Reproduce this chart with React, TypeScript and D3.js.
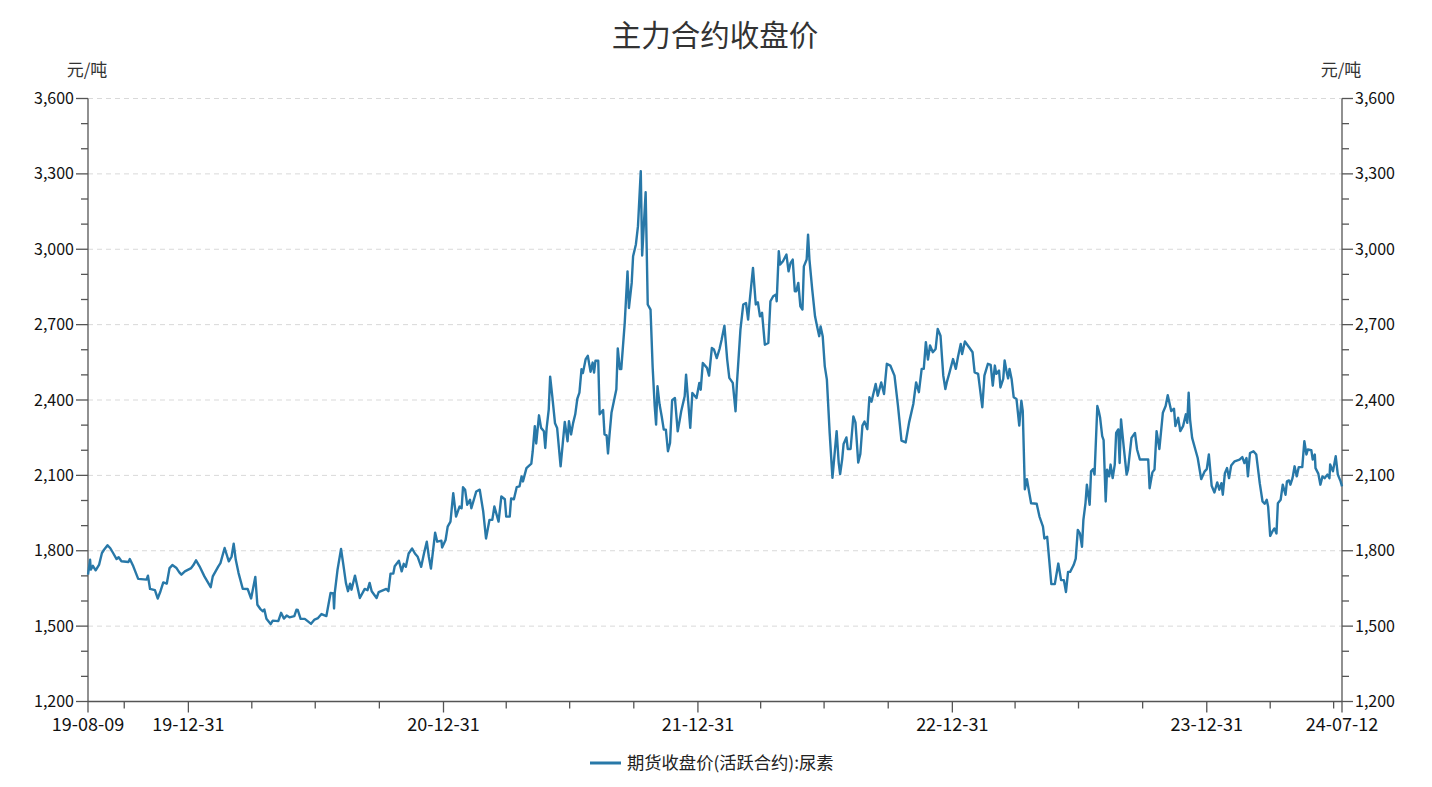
import React from "react";
import * as d3 from "d3";

const TITLE = "主力合约收盘价";
const UNIT = "元/吨";
const SERIES_NAME = "期货收盘价(活跃合约):尿素";
const X_START = "2019-08-09";
const X_END = "2024-07-12";
const Y_MIN = 1200;
const Y_MAX = 3600;
const Y_MAJOR = [1200, 1500, 1800, 2100, 2400, 2700, 3000, 3300, 3600];

// [MM-DD, close price] per year
const close2019: [string, number][] = [
  ["08-09", 1705], ["08-12", 1764], ["08-13", 1725], ["08-16", 1740], ["08-20", 1722], ["08-25", 1745],
  ["08-29", 1791], ["09-01", 1804], ["09-06", 1822], ["09-10", 1810], ["09-14", 1791], ["09-19", 1767],
  ["09-22", 1774], ["09-26", 1758], ["10-06", 1755], ["10-08", 1767], ["10-13", 1738], ["10-20", 1688],
  ["11-01", 1685], ["11-03", 1701], ["11-06", 1648], ["11-13", 1643], ["11-17", 1610], ["11-21", 1639],
  ["11-25", 1674], ["11-30", 1669], ["12-04", 1731], ["12-08", 1743], ["12-14", 1731], ["12-18", 1714],
  ["12-21", 1705], ["12-26", 1718],
];
const close2020: [string, number][] = [
  ["01-04", 1731], ["01-07", 1742], ["01-11", 1762], ["01-16", 1738], ["01-23", 1698], ["02-01", 1655],
  ["02-04", 1698], ["02-12", 1738], ["02-15", 1751], ["02-21", 1811], ["02-23", 1793], ["02-27", 1758],
  ["03-02", 1777], ["03-05", 1828], ["03-08", 1764], ["03-12", 1711], ["03-18", 1649], ["03-25", 1648],
  ["03-30", 1610], ["04-05", 1696], ["04-08", 1585], ["04-12", 1569], ["04-16", 1559], ["04-18", 1566],
  ["04-21", 1529], ["04-27", 1508], ["04-30", 1522], ["05-08", 1520], ["05-12", 1553], ["05-16", 1530],
  ["05-20", 1542], ["05-24", 1535], ["05-31", 1540], ["06-03", 1565], ["06-05", 1564], ["06-09", 1529],
  ["06-15", 1529], ["06-20", 1518], ["06-24", 1509], ["06-29", 1526], ["07-04", 1532], ["07-09", 1548],
  ["07-16", 1540], ["07-22", 1632], ["07-26", 1630], ["07-27", 1570], ["07-28", 1632], ["08-01", 1725],
  ["08-06", 1807], ["08-09", 1751], ["08-13", 1672], ["08-16", 1639], ["08-19", 1669], ["08-21", 1645],
  ["08-26", 1701], ["09-02", 1612], ["09-09", 1648], ["09-13", 1643], ["09-16", 1672], ["09-19", 1639],
  ["09-26", 1612], ["09-29", 1635], ["10-10", 1648], ["10-13", 1639], ["10-16", 1709], ["10-20", 1709],
  ["10-22", 1738], ["10-28", 1760], ["11-01", 1718], ["11-04", 1748], ["11-07", 1736], ["11-11", 1789],
  ["11-16", 1809], ["11-20", 1789], ["11-24", 1776], ["11-29", 1736], ["12-03", 1789], ["12-07", 1836],
  ["12-10", 1776], ["12-13", 1729], ["12-19", 1872], ["12-22", 1836], ["12-28", 1840], ["12-29", 1813],
];
const close2021: [string, number][] = [
  ["01-03", 1843], ["01-06", 1896], ["01-10", 1916], ["01-14", 2029], ["01-18", 1936], ["01-23", 1976],
  ["01-26", 1969], ["01-28", 2053], ["01-31", 2043], ["02-03", 1983], ["02-07", 2003], ["02-09", 1969],
  ["02-16", 2036], ["02-21", 2043], ["02-26", 1956], ["03-02", 1849], ["03-07", 1923], ["03-11", 1923],
  ["03-14", 1976], ["03-20", 1916], ["03-24", 2016], ["03-29", 2005], ["03-31", 1936], ["04-05", 1936],
  ["04-07", 2008], ["04-11", 2005], ["04-15", 2053], ["04-19", 2056], ["04-22", 2096], ["04-24", 2076],
  ["04-29", 2129], ["05-06", 2147], ["05-08", 2196], ["05-11", 2296], ["05-13", 2227], ["05-17", 2339],
  ["05-20", 2289], ["05-24", 2276], ["05-26", 2209], ["05-28", 2289], ["05-31", 2363], ["06-02", 2493],
  ["06-05", 2416], ["06-09", 2307], ["06-12", 2289], ["06-17", 2136], ["06-23", 2313], ["06-27", 2236],
  ["06-29", 2316], ["07-02", 2263], ["07-05", 2309], ["07-08", 2343], ["07-11", 2405], ["07-14", 2429],
  ["07-17", 2523], ["07-19", 2507], ["07-23", 2563], ["07-26", 2576], ["07-30", 2512], ["08-02", 2549],
  ["08-04", 2509], ["08-06", 2556], ["08-10", 2556], ["08-12", 2343], ["08-17", 2360], ["08-19", 2263],
  ["08-22", 2259], ["08-24", 2187], ["08-26", 2256], ["08-29", 2349], ["09-05", 2443], ["09-07", 2605],
  ["09-10", 2523], ["09-12", 2523], ["09-17", 2707], ["09-21", 2912], ["09-23", 2766], ["09-27", 2866],
  ["09-29", 2972], ["10-03", 3019], ["10-06", 3092], ["10-10", 3311], ["10-12", 2975], ["10-17", 3227],
  ["10-20", 2780], ["10-24", 2760], ["10-27", 2534], ["10-30", 2375], ["11-01", 2302], ["11-03", 2455],
  ["11-06", 2382], ["11-09", 2335], ["11-12", 2282], ["11-15", 2282], ["11-18", 2196], ["11-21", 2229],
  ["11-24", 2399], ["11-28", 2408], ["12-02", 2275], ["12-05", 2322], ["12-07", 2355], ["12-12", 2415],
  ["12-14", 2501], ["12-20", 2289], ["12-23", 2428], ["12-29", 2408],
];
const close2022: [string, number][] = [
  ["01-02", 2468], ["01-04", 2441], ["01-07", 2547], ["01-13", 2528], ["01-16", 2497], ["01-20", 2607],
  ["01-23", 2601], ["01-27", 2567], ["01-31", 2603], ["02-03", 2640], ["02-07", 2696], ["02-11", 2561],
  ["02-14", 2488], ["02-19", 2468], ["02-23", 2355], ["02-25", 2468], ["03-02", 2680], ["03-06", 2780],
  ["03-10", 2786], ["03-13", 2720], ["03-15", 2786], ["03-20", 2926], ["03-24", 2780], ["03-27", 2789],
  ["03-30", 2733], ["04-02", 2747], ["04-06", 2620], ["04-11", 2627], ["04-14", 2793], ["04-18", 2813],
  ["04-22", 2820], ["04-23", 2793], ["04-26", 2992], ["04-28", 2939], ["05-02", 2952], ["05-07", 2979],
  ["05-10", 2912], ["05-13", 2946], ["05-16", 2959], ["05-19", 2833], ["05-21", 2833], ["05-24", 2866],
  ["05-27", 2773], ["05-30", 2760], ["06-01", 2932], ["06-05", 2959], ["06-07", 3058], ["06-09", 2959],
  ["06-13", 2839], ["06-17", 2733], ["06-20", 2693], ["06-23", 2654], ["06-25", 2693], ["06-28", 2654],
  ["07-01", 2534], ["07-04", 2481], ["07-08", 2269], ["07-12", 2090], ["07-18", 2276], ["07-21", 2149],
  ["07-23", 2105], ["07-26", 2165], ["07-28", 2225], ["08-01", 2251], ["08-03", 2205], ["08-07", 2205],
  ["08-11", 2335], ["08-14", 2311], ["08-18", 2151], ["08-21", 2185], ["08-24", 2298], ["08-27", 2314],
  ["08-31", 2284], ["09-03", 2411], ["09-06", 2393], ["09-12", 2464], ["09-15", 2417], ["09-20", 2470],
  ["09-24", 2424], ["09-28", 2544], ["10-03", 2537], ["10-09", 2497], ["10-14", 2377], ["10-19", 2238],
  ["10-25", 2231], ["10-30", 2311], ["11-05", 2384], ["11-09", 2470], ["11-13", 2431], ["11-17", 2524],
  ["11-20", 2524], ["11-23", 2630], ["11-26", 2561], ["11-29", 2617], ["12-03", 2590], ["12-07", 2603],
  ["12-10", 2683], ["12-14", 2656], ["12-18", 2497], ["12-21", 2444], ["12-23", 2470], ["12-27", 2510],
];
const close2023: [string, number][] = [
  ["01-01", 2563], ["01-05", 2524], ["01-08", 2570], ["01-12", 2623], ["01-14", 2583], ["01-18", 2633],
  ["01-24", 2610], ["01-29", 2590], ["02-01", 2510], ["02-06", 2504], ["02-12", 2371], ["02-15", 2497],
  ["02-20", 2544], ["02-24", 2540], ["02-27", 2457], ["03-02", 2537], ["03-04", 2504], ["03-08", 2517],
  ["03-10", 2450], ["03-14", 2484], ["03-16", 2557], ["03-19", 2510], ["03-21", 2486], ["03-23", 2524],
  ["03-26", 2484], ["03-29", 2411], ["04-02", 2404], ["04-06", 2298], ["04-09", 2397], ["04-11", 2357],
  ["04-14", 2045], ["04-17", 2085], ["04-20", 2036], ["04-23", 1989], ["05-01", 1987], ["05-05", 1936],
  ["05-10", 1896], ["05-12", 1849], ["05-16", 1856], ["05-19", 1763], ["05-22", 1667], ["05-27", 1667],
  ["06-01", 1749], ["06-05", 1683], ["06-09", 1683], ["06-12", 1636], ["06-15", 1716], ["06-18", 1716],
  ["06-23", 1743], ["06-26", 1769], ["06-29", 1883], ["07-02", 1869], ["07-05", 1816], ["07-07", 1923],
  ["07-10", 1989], ["07-12", 2063], ["07-14", 2023], ["07-16", 1983], ["07-18", 2116], ["07-21", 2125],
  ["07-23", 2103], ["07-27", 2376], ["07-29", 2356], ["07-31", 2329], ["08-03", 2256], ["08-05", 2240],
  ["08-08", 1996], ["08-10", 2123], ["08-13", 2096], ["08-15", 2143], ["08-18", 2089], ["08-21", 2143],
  ["08-23", 2269], ["08-26", 2283], ["08-28", 2149], ["08-30", 2323], ["09-03", 2209], ["09-07", 2103],
  ["09-09", 2123], ["09-14", 2249], ["09-19", 2269], ["09-22", 2203], ["09-26", 2163], ["10-01", 2163],
  ["10-08", 2163], ["10-10", 2049], ["10-14", 2112], ["10-17", 2123], ["10-20", 2276], ["10-24", 2205],
  ["10-29", 2349], ["11-02", 2376], ["11-05", 2419], ["11-10", 2356], ["11-14", 2365], ["11-16", 2296],
  ["11-20", 2329], ["11-23", 2276], ["11-27", 2296], ["12-01", 2343], ["12-03", 2309], ["12-05", 2429],
  ["12-07", 2323], ["12-10", 2249], ["12-14", 2209], ["12-18", 2169], ["12-23", 2085], ["12-28", 2116],
  ["12-31", 2125],
];
const close2024: [string, number][] = [
  ["01-03", 2183], ["01-07", 2059], ["01-11", 2032], ["01-15", 2072], ["01-18", 2043], ["01-21", 2069],
  ["01-23", 2023], ["01-26", 2109], ["01-29", 2129], ["02-01", 2089], ["02-04", 2139], ["02-09", 2156],
  ["02-16", 2163], ["02-20", 2173], ["02-23", 2149], ["02-26", 2169], ["02-28", 2096], ["03-02", 2189],
  ["03-07", 2196], ["03-11", 2183], ["03-16", 2069], ["03-20", 1996], ["03-23", 1987], ["03-26", 2003],
  ["03-28", 1976], ["03-31", 1859], ["04-03", 1876], ["04-06", 1889], ["04-09", 1869], ["04-11", 1989],
  ["04-15", 2003], ["04-18", 2063], ["04-22", 2023], ["04-24", 2076], ["04-27", 2080], ["04-29", 2063],
  ["05-02", 2089], ["05-05", 2136], ["05-08", 2096], ["05-11", 2133], ["05-16", 2133], ["05-19", 2236],
  ["05-22", 2183], ["05-24", 2203], ["05-29", 2200], ["05-31", 2163], ["06-03", 2183], ["06-04", 2129],
  ["06-08", 2107], ["06-11", 2063], ["06-14", 2096], ["06-17", 2089], ["06-21", 2103], ["06-24", 2089],
  ["06-25", 2143], ["06-29", 2116], ["07-03", 2176], ["07-06", 2103], ["07-10", 2076], ["07-12", 2056],
];

const YEARS: [number, [string, number][]][] = [
  [2019, close2019], [2020, close2020], [2021, close2021],
  [2022, close2022], [2023, close2023], [2024, close2024],
];

const FONT = "'Noto Sans CJK SC', 'Microsoft YaHei', sans-serif";
const LINE_COLOR = "#2878a8";
const AXIS_COLOR = "#555";

export default function App() {
  const W = 1432, H = 787;
  const left = 88, right = 1342, top = 98.5, bottom = 701.5;
  const parse = d3.timeParse("%Y-%m-%d");
  const fmt = d3.timeFormat("%y-%m-%d");
  const data = YEARS.flatMap(([yr, arr]) =>
    arr.map(([md, v]) => ({ date: parse(`${yr}-${md}`) as Date, value: v }))
  );
  const start = parse(X_START) as Date;
  const end = parse(X_END) as Date;
  const x = d3.scaleTime().domain([start, end]).range([left, right]);
  const y = d3.scaleLinear().domain([Y_MIN, Y_MAX]).range([bottom, top]);
  const line = d3
    .line<{ date: Date; value: number }>()
    .x((d) => x(d.date))
    .y((d) => y(d.value));

  // quarter-end ticks
  const quarterEnds = d3.timeMonth
    .every(3)!
    .range(start, d3.timeDay.offset(end, 2))
    .map((d) => d3.timeDay.offset(d, -1))
    .filter((d) => d > start && d < end);
  const labeled = [start, ...quarterEnds.filter((d) => d.getMonth() === 11), end];
  const minorQ = quarterEnds.filter((d) => d.getMonth() !== 11);

  const yMinor = d3.range(Y_MIN, Y_MAX + 1, 100).filter((v) => v % 300 !== 0);
  const tickFmt = d3.format(",");

  return (
    <svg
      width={W}
      height={H}
      style={{ position: "absolute", left: 0, top: 0, background: "#fff" }}
      fontFamily={FONT}
    >
      <rect width={W} height={H} fill="#fff" />
      <text x={715} y={46} textAnchor="middle" fontSize={29.5} fill="#333">
        {TITLE}
      </text>
      <text x={87} y={76} textAnchor="middle" fontSize={17} fill="#333">
        {UNIT}
      </text>
      <text x={1341} y={76} textAnchor="middle" fontSize={17} fill="#333">
        {UNIT}
      </text>

      {/* gridlines */}
      {Y_MAJOR.filter((v) => v !== Y_MIN).map((v) => (
        <line
          key={"g" + v}
          x1={left}
          x2={right}
          y1={y(v)}
          y2={y(v)}
          stroke="#d9d9d9"
          strokeDasharray="5,4"
          strokeWidth={1}
        />
      ))}

      {/* left axis */}
      <line x1={left} x2={left} y1={top} y2={bottom} stroke={AXIS_COLOR} strokeWidth={1.3} />
      {Y_MAJOR.map((v) => (
        <g key={"l" + v}>
          <line x1={left - 12} x2={left} y1={y(v)} y2={y(v)} stroke={AXIS_COLOR} strokeWidth={1.3} />
          <text x={left - 14} y={y(v)} dy="0.35em" textAnchor="end" fontSize={16} fill="#111">
            {tickFmt(v)}
          </text>
        </g>
      ))}
      {yMinor.map((v) => (
        <line key={"lm" + v} x1={left - 7} x2={left} y1={y(v)} y2={y(v)} stroke={AXIS_COLOR} strokeWidth={1.3} />
      ))}

      {/* right axis */}
      <line x1={right} x2={right} y1={top} y2={bottom} stroke={AXIS_COLOR} strokeWidth={1.3} />
      {Y_MAJOR.map((v) => (
        <g key={"r" + v}>
          <line x1={right} x2={right + 11} y1={y(v)} y2={y(v)} stroke={AXIS_COLOR} strokeWidth={1.3} />
          <text x={right + 13} y={y(v)} dy="0.35em" textAnchor="start" fontSize={16} fill="#111">
            {tickFmt(v)}
          </text>
        </g>
      ))}
      {yMinor.map((v) => (
        <line key={"rm" + v} x1={right} x2={right + 7} y1={y(v)} y2={y(v)} stroke={AXIS_COLOR} strokeWidth={1.3} />
      ))}

      {/* x axis */}
      <line x1={left} x2={right} y1={bottom} y2={bottom} stroke={AXIS_COLOR} strokeWidth={1.3} />
      {labeled.map((d) => (
        <g key={"x" + d.getTime()}>
          <line x1={x(d)} x2={x(d)} y1={bottom} y2={bottom + 11} stroke={AXIS_COLOR} strokeWidth={1.3} />
          <text x={x(d)} y={bottom + 29} textAnchor="middle" fontSize={18} fill="#111">
            {fmt(d)}
          </text>
        </g>
      ))}
      {minorQ.map((d) => (
        <line
          key={"xm" + d.getTime()}
          x1={x(d)}
          x2={x(d)}
          y1={bottom}
          y2={bottom + 7}
          stroke={AXIS_COLOR}
          strokeWidth={1.3}
        />
      ))}

      {/* series */}
      <path d={line(data) || ""} fill="none" stroke={LINE_COLOR} strokeWidth={2.4} strokeLinejoin="round" />

      {/* legend */}
      <line x1={590} x2={621} y1={763} y2={763} stroke={LINE_COLOR} strokeWidth={3} />
      <text x={627} y={763} dy="0.35em" fontSize={17.3} fill="#222">
        {SERIES_NAME}
      </text>
    </svg>
  );
}
